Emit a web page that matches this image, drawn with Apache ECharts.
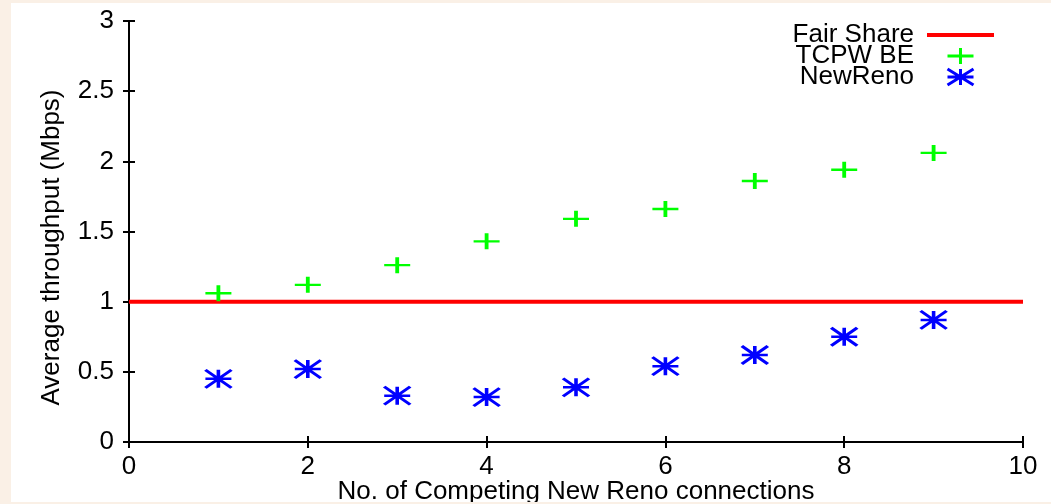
<!DOCTYPE html>
<html>
<head>
<meta charset="utf-8">
<script src="https://cdn.jsdelivr.net/npm/echarts@6/dist/echarts.min.js"></script>
<style>
html,body{margin:0;padding:0;background:#faf0e6;}
#chart{width:1051px;height:504px;}
</style>
</head>
<body>
<div id="chart"></div>
<script>
const xValues = [1, 2, 3, 4, 5, 6, 7, 8, 9];
const tcpwBE = [1.06, 1.12, 1.26, 1.43, 1.59, 1.66, 1.86, 1.94, 2.06];
const newReno = [0.45, 0.52, 0.33, 0.32, 0.39, 0.54, 0.62, 0.75, 0.87];
const fairShareX = [0, 10];
const fairShareY = [1, 1];
const seriesNames = ['Fair Share', 'TCPW BE', 'NewReno'];
const xAxisTitle = 'No. of Competing New Reno connections';
const yAxisTitle = 'Average throughput (Mbps)';

const FONT = 'Liberation Sans, Arial, Helvetica, sans-serif';
const FS = 26;
const plusPath = 'path://M0,8 L26,8 M13,0 L13,16';
const starPath = 'path://M0,0 L26,18 M0,18 L26,0 M0,9 L26,9 M13,0 L13,18';
const lineLegend = 'path://M0,0 M67,16 M0,8 L67,8';
const plusLegend = 'path://M0,0 M67,16 M20.5,8 L46.5,8 M33.5,0 L33.5,16';
const starLegend = 'path://M0,0 M67,16 M20.5,0 L46.5,16 M20.5,16 L46.5,0 M20.5,8 L46.5,8 M33.5,0 L33.5,16';

const chart = echarts.init(document.getElementById('chart'), null, {renderer: 'canvas'});

const axisLine = {show: true, lineStyle: {color: '#000', width: 2}};
const axisTick = {show: true, inside: true, length: 6, lineStyle: {color: '#000', width: 2}};

chart.setOption({
  backgroundColor: '#faf0e6',
  animation: false,
  textStyle: {fontFamily: FONT},
  graphic: [
    {type: 'rect', z: -10, shape: {x: 11, y: 3, width: 1040, height: 499}, style: {fill: '#ffffff'}},
    {type: 'rect', z: 100, zlevel: 1, shape: {x: 0, y: 502, width: 1051, height: 2}, style: {fill: '#faf0e6'}}
  ],
  grid: {left: 129, top: 21, right: 28, bottom: 62, containLabel: false, outerBoundsMode: 'none'},
  legend: {
    orient: 'vertical',
    right: 55,
    top: 22,
    align: 'right',
    padding: 0,
    itemWidth: 67,
    itemHeight: 16,
    itemGap: -5,
    selectedMode: false,
    textStyle: {fontFamily: FONT, fontSize: FS, color: '#000', padding: [0, 8, 0, 0]},
    data: [
      {name: seriesNames[0], icon: lineLegend, itemStyle: {color: 'rgba(0,0,0,0)', borderColor: '#ff0000', borderWidth: 4}},
      {name: seriesNames[1], icon: plusLegend, itemStyle: {color: 'rgba(0,0,0,0)', borderColor: '#00ff00', borderWidth: 3}},
      {name: seriesNames[2], icon: starLegend, itemStyle: {color: 'rgba(0,0,0,0)', borderColor: '#0000ff', borderWidth: 3}}
    ]
  },
  xAxis: [
    {
      type: 'value', min: 0, max: 10, interval: 2,
      name: xAxisTitle, nameLocation: 'middle', nameGap: 37, nameMoveOverlap: false,
      nameTextStyle: {fontFamily: FONT, fontSize: FS, color: '#000'},
      axisLine: axisLine, axisTick: axisTick,
      axisLabel: {fontFamily: FONT, fontSize: FS, color: '#000', margin: 12},
      splitLine: {show: false}
    },
    {
      type: 'value', min: 0, max: 10, interval: 2, position: 'top',
      axisLine: axisLine, axisTick: axisTick,
      axisLabel: {show: false}, splitLine: {show: false}
    }
  ],
  yAxis: [
    {
      type: 'value', min: 0, max: 3, interval: 0.5,
      name: yAxisTitle, nameLocation: 'middle', nameGap: 64, nameRotate: 90, nameMoveOverlap: false,
      nameTextStyle: {fontFamily: FONT, fontSize: 26, color: '#000', padding: [0, 32, 0, 0]},
      axisLine: axisLine, axisTick: axisTick,
      axisLabel: {fontFamily: FONT, fontSize: FS, color: '#000', margin: 15},
      splitLine: {show: false}
    },
    {
      type: 'value', min: 0, max: 3, interval: 0.5, position: 'right',
      axisLine: axisLine, axisTick: axisTick,
      axisLabel: {show: false}, splitLine: {show: false}
    }
  ],
  series: [
    {
      name: seriesNames[0], type: 'line',
      data: fairShareX.map((x, i) => [x, fairShareY[i]]),
      showSymbol: false, symbol: 'none',
      lineStyle: {color: '#ff0000', width: 4},
      itemStyle: {color: '#ff0000'},
      z: 3
    },
    {
      name: seriesNames[1], type: 'scatter',
      data: xValues.map((x, i) => [x, tcpwBE[i]]),
      symbol: plusPath, symbolSize: [26, 16],
      itemStyle: {color: 'rgba(0,0,0,0)', borderColor: '#00ff00', borderWidth: 3, opacity: 1},
      z: 4
    },
    {
      name: seriesNames[2], type: 'scatter',
      data: xValues.map((x, i) => [x, newReno[i]]),
      symbol: starPath, symbolSize: [26, 18],
      itemStyle: {color: 'rgba(0,0,0,0)', borderColor: '#0000ff', borderWidth: 3, opacity: 1},
      z: 4
    }
  ]
});
</script>
</body>
</html>
